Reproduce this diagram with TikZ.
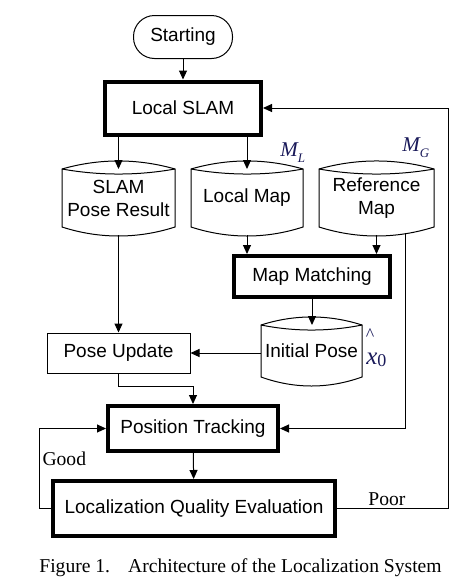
\documentclass[tikz,border=0pt]{standalone}
\usepackage{fontspec}
\setmainfont{Liberation Serif}
\newfontfamily\boxfont{Liberation Sans}
\usetikzlibrary{arrows.meta,calc}
\definecolor{labelblue}{rgb}{0.1,0.1,0.35}

\begin{document}
\begin{tikzpicture}[x=0.5pt,y=-0.5pt,
  box/.style={draw,line width=2pt,font=\boxfont\fontsize{9.5}{11.5}\selectfont,align=center,inner sep=0pt},
  thinbox/.style={box,line width=0.5pt},
  drum/.style={font=\boxfont\fontsize{9.5}{11.5}\selectfont,align=center,inner sep=0pt,outer sep=0pt},
  arr/.style={-{Triangle[length=4.5pt,width=4pt]},line width=0.5pt},
  lbl/.style={font=\fontsize{10.5}{10.5}\selectfont\itshape,text=labelblue,inner sep=0pt}]
\useasboundingbox (0,0) rectangle (462,579);

\node[thinbox,rounded corners=10.5pt,minimum width=49.5pt,minimum height=21.5pt] (start) at (183,37) {Starting};
\node[box,minimum width=78pt,minimum height=26.5pt] (slam) at (183,108) {Local SLAM};
\node[drum,minimum width=56.5pt,minimum height=29pt] (srp) at (118.5,198) {SLAM\\Pose Result};
\node[drum,minimum width=56pt,minimum height=29pt] (lmap) at (247,198) {Local Map};
\node[drum,minimum width=57.5pt,minimum height=29pt] (refmap) at (376.5,198) {Reference\\Map};
\node[box,minimum width=78pt,minimum height=20.5pt] (mm) at (312,276.5) {Map Matching};
\node[drum,minimum width=50.5pt,minimum height=26pt] (init) at (311.5,351) {Initial Pose};
\node[thinbox,minimum width=71.5pt,minimum height=20pt] (pu) at (118.5,353) {Pose Update};
\node[box,minimum width=85pt,minimum height=22.5pt] (pt) at (193,428.5) {Position Tracking};
\node[box,minimum width=141pt,minimum height=27.5pt] (lqe) at (194,508.5) {Localization Quality Evaluation};

\foreach \n in {srp,lmap,refmap,init}{
\draw[line width=0.5pt] (\n.north west) .. controls ($(\n.north west)!0.33!(\n.north east)+(0,-10.7)$) and ($(\n.north west)!0.67!(\n.north east)+(0,-10.7)$) .. (\n.north east)
  -- (\n.south east) .. controls ($(\n.south west)!0.67!(\n.south east)+(0,12)$) and ($(\n.south west)!0.33!(\n.south east)+(0,12)$) .. (\n.south west) -- cycle;
\draw[line width=0.5pt] (\n.north west) .. controls ($(\n.north west)!0.33!(\n.north east)+(0,6.7)$) and ($(\n.north west)!0.67!(\n.north east)+(0,6.7)$) .. (\n.north east);
}

\node[lbl,anchor=base west] (ml) at (280,156) {M\raisebox{-3pt}{\fontsize{6.5}{6.5}\selectfont L}};
\node[lbl,anchor=base west] (mg) at (402,151) {M\raisebox{-3pt}{\fontsize{6.5}{6.5}\selectfont G}};
\node[lbl,anchor=base west,font=\fontsize{12.5}{12.5}\selectfont] (xnaught) at (366,364) {\textit{x}\raisebox{-1pt}{\fontsize{9}{9}\selectfont 0}};
\node[lbl,anchor=base,font=\fontsize{9}{9}\selectfont] (xhat) at (370,340) {\textasciicircum};

\draw[arr] (start) -- (slam);
\draw[arr] (srp.north |- slam.south) -- (srp.north);
\draw[arr] (lmap.north |- slam.south) -- (lmap.north);
\draw[arr] ([yshift=-4pt]lmap.south) -- (lmap.south |- mm.north);
\draw[arr] ([yshift=-4pt]refmap.south) -- (refmap.south |- mm.north);
\draw[arr] (mm) -- (init.north -| mm);
\draw[arr] (init.west |- pu.east) -- (pu.east);
\draw[arr] ([yshift=-4pt]srp.south) -- (pu.north);
\draw[arr] (pu.south) -- ++(0,13) -| (pt.north);
\draw[arr] ([xshift=14.25pt,yshift=-3pt]refmap.south) |- (pt.east);
\draw[arr] (pt) -- (lqe);
\draw[arr] (lqe.west) -- ++(-12,0) |- node[pos=0.31,right,inner sep=1.5pt,font=\fontsize{9.8}{12}\selectfont]{Good} (pt.west);
\draw[arr] (lqe.east) -- ++(111,0) node[pos=0.45,above,inner sep=1pt,font=\fontsize{9.8}{12}\selectfont]{Poor} |- (slam.east);

\node[anchor=base,font=\fontsize{9.8}{12}\selectfont] (caption) at (240.5,572) {Figure 1.\hspace{9pt}Architecture of the Localization System};
\end{tikzpicture}
\end{document}
